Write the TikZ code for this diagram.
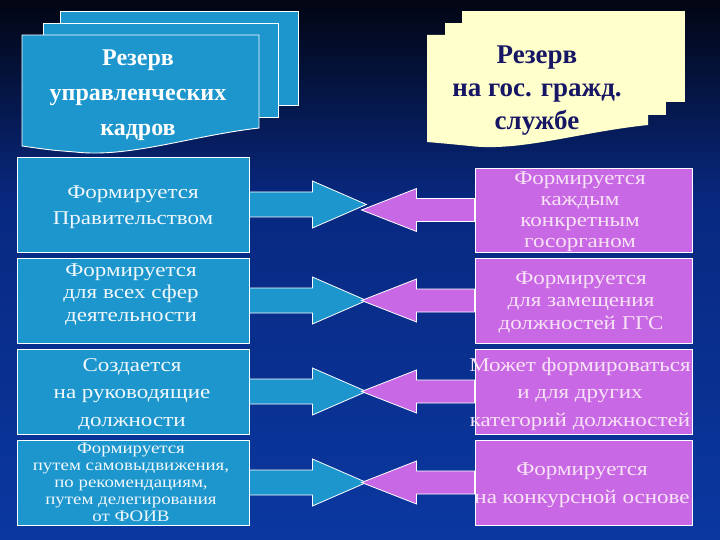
\documentclass[tikz,border=0pt]{standalone}
\usepackage{fontspec}
\setmainfont{Liberation Serif}
\newfontfamily\boxfont[FakeStretch=1.18]{Liberation Serif}
\usetikzlibrary{calc}
\definecolor{bgtop}{RGB}{2,5,18}
\definecolor{bgmid}{RGB}{8,40,128}
\definecolor{bgbot}{RGB}{10,56,160}
\definecolor{cyanfill}{RGB}{28,150,205}
\definecolor{pinkfill}{RGB}{200,104,228}
\definecolor{paleyellow}{RGB}{255,255,204}
\definecolor{navytext}{RGB}{22,22,100}
\definecolor{pinktext}{RGB}{248,226,246}
\definecolor{lighttext}{RGB}{240,248,252}
\begin{document}
\begin{tikzpicture}[x=1pt,y=-1pt,
  lbox/.style={draw=white,line width=0.9pt,fill=cyanfill,minimum width=232pt,minimum height=#1,inner sep=0pt},
  rbox/.style={draw=white,line width=0.9pt,fill=pinkfill,minimum width=217pt,minimum height=#1,inner sep=0pt},
  ltext/.style={text=lighttext,align=center,inner sep=0pt,font=\boxfont\fontsize{19.5}{#1}\selectfont},
  rtext/.style={text=pinktext,align=center,inner sep=0pt,font=\boxfont\fontsize{19.5}{#1}\selectfont},
  carrow/.style={draw=white,line width=0.8pt,fill=cyanfill,line join=miter},
  parrow/.style={draw=white,line width=0.8pt,fill=pinkfill,line join=miter},
  ldoc/.style={fill=cyanfill,draw=white,line width=0.9pt},
  ydoc/.style={fill=paleyellow}]
% background
\useasboundingbox (0,0) rectangle (720,540);
\fill[top color=bgtop,bottom color=bgmid] (0,0) rectangle (720,200);
\fill[top color=bgmid,bottom color=bgbot] (0,199.5) rectangle (720,540);
% left header documents
\draw[ldoc] (60,11) rectangle (298,105);
\draw[ldoc] (43,23) rectangle (278,117);
\draw[ldoc] (22,35) -- (259,35) -- (259,128) .. controls (190,136) and (130,158) .. (75,152) .. controls (50,150) .. (22,146) -- cycle;
\node[font=\bfseries\fontsize{24}{35}\selectfont,text=white,align=center,inner sep=0pt] (h1) at (138,95) {Резерв\\управленческих\\кадров};
% right header documents
\fill[ydoc] (462,11) rectangle (685,102);
\fill[ydoc] (445,23) rectangle (666,115);
\fill[ydoc] (427,35) -- (648,35) -- (648,125) .. controls (580,132) and (520,152) .. (470,146) .. controls (450,144) .. (427,142) -- cycle;
\node[font=\bfseries\fontsize{27}{33}\selectfont,text=navytext,align=center,inner sep=0pt] (h2) at (537,91) {Резерв\\на гос. гражд.\\службе};
% left boxes
\node[lbox=95pt] (l1) at (133,204.5) {};
\node[lbox=85pt] (l2) at (133,300.5) {};
\node[lbox=85pt] (l3) at (133,391.5) {};
\node[lbox=85pt] (l4) at (133,482.5) {};
\node[ltext=26] (tl1) at (133,207.5) {Формируется\\Правительством};
\node[ltext=22.5] (tl2) at (131,294) {Формируется\\для всех сфер\\деятельности};
\node[ltext=27.5] (tl3) at (132,394) {Создается\\на руководящие\\должности};
\node[text=lighttext,align=center,inner sep=0pt,font=\boxfont\fontsize{16}{17}\selectfont] (tl4) at (131,482.5) {Формируется\\путем самовыдвижения,\\по рекомендациям,\\путем делегирования\\от ФОИВ};
% right boxes
\node[rbox=84pt] (r1) at (583.5,210) {};
\node[rbox=85pt] (r2) at (583.5,300.5) {};
\node[rbox=85pt] (r3) at (583.5,391.5) {};
\node[rbox=85pt] (r4) at (583.5,482.5) {};
\node[rtext=21] (tr1) at (580,212) {Формируется\\каждым\\конкретным\\госорганом};
\node[rtext=22.5] (tr2) at (581,302) {Формируется\\для замещения\\должностей ГГС};
\node[rtext=27.5] (tr3) at (580,394) {Может формироваться\\и для других\\категорий должностей};
\node[rtext=28] (tr4) at (582,485) {Формируется\\на конкурсной основе};
% cyan block arrows (left boxes -> middle)
\foreach \b in {l1,l2,l3,l4}{
  \draw[carrow] ($(\b.east)+(0,-12.5)$) -- ++(63,0) -- ++(0,-11) -- ++(54,23.5) -- ++(-54,23.5) -- ++(0,-11) -- ++(-63,0) -- cycle;
}
% pink block arrows (right boxes -> middle)
\foreach \b in {r1,r2,r3,r4}{
  \draw[parrow] ($(\b.west)+(0,-11.5)$) -- ++(-58,0) -- ++(0,-10) -- ++(-55,21.5) -- ++(55,21.5) -- ++(0,-10) -- ++(58,0) -- cycle;
}
\end{tikzpicture}
\end{document}
